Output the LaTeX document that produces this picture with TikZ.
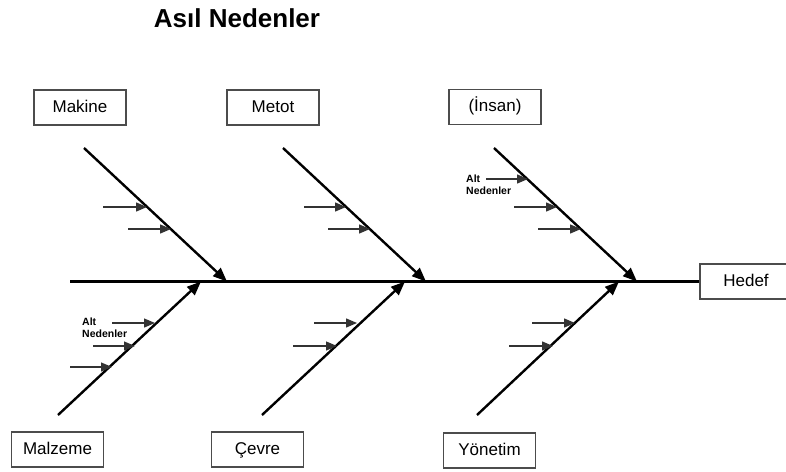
\documentclass[tikz,border=0pt]{standalone}
\usepackage{fontspec}
\setmainfont{Liberation Sans}
\usetikzlibrary{arrows.meta}
\begin{document}
\begin{tikzpicture}[x=1pt,y=-1pt,
  catbox/.style={draw=black!70,line width=1.3pt,minimum width=92pt,minimum height=35pt,
    inner sep=0pt,text height=12.5pt,text depth=3.5pt,font=\fontsize{17}{20}\selectfont},
  spine/.style={line width=2.8pt},
  bone/.style={line width=2.4pt,-{Triangle[length=14pt,width=11pt]}},
  subarrow/.style={line width=1.3pt,draw=black!80,-{Triangle[length=11pt,width=9pt]}},
  sublabel/.style={font=\bfseries\fontsize{10.5}{12}\selectfont,align=left,inner sep=0pt,anchor=west}]
\useasboundingbox (0,0) rectangle (786,471);

% title
\node[font=\bfseries\fontsize{26}{30}\selectfont] (title) at (237,18) {Asıl Nedenler};

% category boxes
\node[catbox] (makine) at (80,107.5) {Makine};
\node[catbox] (metot) at (273,107.5) {Metot};
\node[catbox] (insan) at (495,107) {(İnsan)};
\node[catbox] (malzeme) at (57.5,449.5) {Malzeme};
\node[catbox] (cevre) at (257.5,449.5) {Çevre};
\node[catbox] (yonetim) at (489.5,450.5) {Yönetim};
\node[catbox] (hedef) at (746,281.5) {Hedef};

% spine
\coordinate (tail) at (70,281.5);
\draw[spine] (tail) -- (hedef.west);

% upper bones
\coordinate (mkS) at (84,148);  \coordinate (mkE) at (227,281.5);
\coordinate (mtS) at (283,148); \coordinate (mtE) at (426,281.5);
\coordinate (inS) at (494,148); \coordinate (inE) at (637,281.5);
\draw[bone] (mkS) -- (mkE);
\draw[bone] (mtS) -- (mtE);
\draw[bone] (inS) -- (inE);

% lower bones
\coordinate (mzS) at (58,415);  \coordinate (mzE) at (201,281.5);
\coordinate (cvS) at (262,415); \coordinate (cvE) at (405,281.5);
\coordinate (ynS) at (477,415); \coordinate (ynE) at (619,281.5);
\draw[bone] (mzS) -- (mzE);
\draw[bone] (cvS) -- (cvE);
\draw[bone] (ynS) -- (ynE);

% sub-cause arrows, Makine
\coordinate (mk1a) at (103,207); \coordinate (mk1b) at (147,207);
\coordinate (mk2a) at (128,229); \coordinate (mk2b) at (171,229);
\draw[subarrow] (mk1a) -- (mk1b);
\draw[subarrow] (mk2a) -- (mk2b);

% sub-cause arrows, Metot
\coordinate (mt1a) at (304,207); \coordinate (mt1b) at (346,207);
\coordinate (mt2a) at (328,229); \coordinate (mt2b) at (370,229);
\draw[subarrow] (mt1a) -- (mt1b);
\draw[subarrow] (mt2a) -- (mt2b);

% sub-cause arrows, İnsan
\node[sublabel] (inlab) at (466,185) {Alt\\Nedenler};
\coordinate (in1a) at (486,179); \coordinate (in1b) at (528,179);
\coordinate (in2a) at (514,207); \coordinate (in2b) at (557,207);
\coordinate (in3a) at (538,229); \coordinate (in3b) at (581,229);
\draw[subarrow] (in1a) -- (in1b);
\draw[subarrow] (in2a) -- (in2b);
\draw[subarrow] (in3a) -- (in3b);

% sub-cause arrows, Malzeme
\node[sublabel] (mzlab) at (82,328) {Alt\\Nedenler};
\coordinate (mz1a) at (112,323); \coordinate (mz1b) at (155,323);
\coordinate (mz2a) at (93,346);  \coordinate (mz2b) at (135,346);
\coordinate (mz3a) at (70,367);  \coordinate (mz3b) at (112,367);
\draw[subarrow] (mz1a) -- (mz1b);
\draw[subarrow] (mz2a) -- (mz2b);
\draw[subarrow] (mz3a) -- (mz3b);

% sub-cause arrows, Çevre
\coordinate (cv1a) at (314,323); \coordinate (cv1b) at (357,323);
\coordinate (cv2a) at (293,346); \coordinate (cv2b) at (337,346);
\draw[subarrow] (cv1a) -- (cv1b);
\draw[subarrow] (cv2a) -- (cv2b);

% sub-cause arrows, Yönetim
\coordinate (yn1a) at (532,323); \coordinate (yn1b) at (575,323);
\coordinate (yn2a) at (509,346); \coordinate (yn2b) at (553,346);
\draw[subarrow] (yn1a) -- (yn1b);
\draw[subarrow] (yn2a) -- (yn2b);
\end{tikzpicture}
\end{document}
